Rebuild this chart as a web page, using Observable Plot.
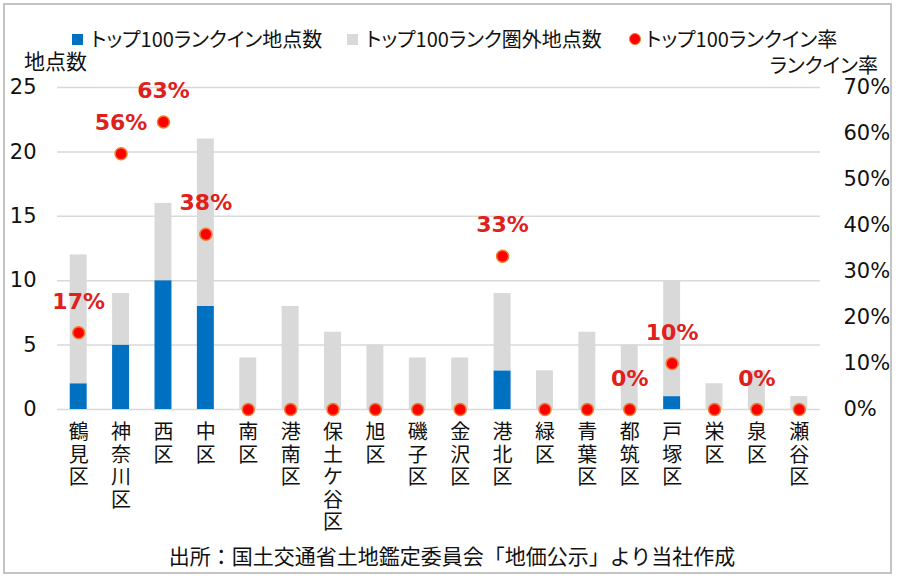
<!DOCTYPE html>
<html>
<head>
<meta charset="utf-8">
<script src="https://cdn.jsdelivr.net/npm/d3@7"></script>
<script src="https://cdn.jsdelivr.net/npm/@observablehq/plot@0.6"></script>
<style>
  html, body { margin: 0; padding: 0; background: #fff; }
  #wrap { position: relative; width: 900px; height: 584px; overflow: hidden; background: #fff;
          font-family: "Noto Sans CJK JP", "Noto Sans", sans-serif; color: #111; }
  #frame { position: absolute; left: 3px; top: 3px; width: 889px; height: 571px; border: 2px solid #c4c4c4; box-sizing: border-box; }
  .jp { font-feature-settings: "palt"; }
  .leg { position: absolute; top: 27px; font-size: 20px; line-height: 24px; white-space: nowrap; display: flex; align-items: center; }
  .sw { display: inline-block; width: 11px; height: 11px; margin-right: 8px; }
  .dotsw { display: inline-block; width: 10px; height: 10px; border-radius: 50%; background: #ff0000; border: 1.5px solid #ed7d31; margin-right: 5px; }
  #ytitleL { position: absolute; left: 24px; top: 48px; font-size: 21px; line-height: 24px; }
  #ytitleR { position: absolute; right: 22px; top: 53px; font-size: 20px; line-height: 24px; }
  #caption { position: absolute; left: 0; width: 904px; text-align: center; top: 542px; font-size: 21px; line-height: 26px; }
  #chart { position: absolute; left: 0; top: 74px; }
</style>
</head>
<body>
<div id="wrap">
  <div id="frame"></div>
  <div class="leg jp" style="left:72px"><span class="sw" style="background:#0070c0"></span>トップ100ランクイン地点数</div>
  <div class="leg jp" style="left:347px"><span class="sw" style="background:#d9d9d9"></span>トップ100ランク圏外地点数</div>
  <div class="leg jp" style="left:629px"><span class="dotsw"></span>トップ100ランクイン率</div>
  <div id="ytitleL" class="jp">地点数</div>
  <div id="ytitleR" class="jp">ランクイン率</div>
  <div id="chart"></div>
  <div id="caption">出所：国土交通省土地鑑定委員会「地価公示」より当社作成</div>
</div>
<script>
// ---- data ----
const districts = ["鶴見区","神奈川区","西区","中区","南区","港南区","保土ケ谷区","旭区","磯子区","金沢区","港北区","緑区","青葉区","都筑区","戸塚区","栄区","泉区","瀬谷区"];
const rankInCount  = [2, 5, 10, 8, 0, 0, 0, 0, 0, 0, 3, 0, 0, 0, 1, 0, 0, 0];
const rankOutCount = [10, 4, 6, 13, 4, 8, 6, 5, 4, 4, 6, 3, 6, 5, 9, 2, 3, 1];
const rankInRate   = [0.167, 0.556, 0.625, 0.381, 0, 0, 0, 0, 0, 0, 0.333, 0, 0, 0, 0.10, 0, 0, 0];
const rateLabels   = ["17%", "56%", "63%", "38%", "", "", "", "", "", "", "33%", "", "", "0%", "10%", "", "0%", ""];
const countTicks   = [0, 5, 10, 15, 20, 25];
const rateTicksPct = [0, 10, 20, 30, 40, 50, 60, 70];
const seriesNames  = ["トップ100ランクイン地点数", "トップ100ランク圏外地点数"];

// ---- derived ----
const countMax = 25, rateMaxPct = 70;
const rateToY = r => r * 100 / rateMaxPct * countMax;
const stacked = districts.flatMap((d, i) => [
  {district: d, series: seriesNames[0], value: rankInCount[i]},
  {district: d, series: seriesNames[1], value: rankOutCount[i]}
]);
const rates = districts.map((d, i) => ({district: d, rate: rankInRate[i], label: rateLabels[i]}));

const numFont = "DejaVu Sans";
const chart = Plot.plot({
  width: 900,
  height: 470,
  marginTop: 13,
  marginBottom: 135,
  marginLeft: 57,
  marginRight: 80,
  style: {fontFamily: "Noto Sans CJK JP", fontSize: "20px", color: "#111", background: "transparent"},
  x: {domain: districts, paddingInner: 0.6, paddingOuter: 0.3, round: false, axis: null},
  y: {domain: [0, countMax], axis: null},
  color: {domain: seriesNames, range: ["#0070c0", "#d9d9d9"]},
  marks: [
    Plot.ruleY(countTicks, {stroke: "#d9d9d9", strokeWidth: 1.5}),
    Plot.barY(stacked, {x: "district", y: "value", fill: "series"}),
    Plot.dot(rates, {x: "district", y: d => rateToY(d.rate), r: 6, fill: "#ff0000", stroke: "#ed7d31", strokeWidth: 1.5}),
    Plot.text(rates.filter(d => d.label), {x: "district", y: d => rateToY(d.rate), text: "label", dy: -31,
      fill: "#e0201b", fontWeight: "bold", fontSize: 22, fontFamily: numFont}),
    Plot.axisY(countTicks, {anchor: "left", tickSize: 0, tickPadding: 21, fontSize: 21, fontFamily: numFont, label: null}),
    Plot.axisY(rateTicksPct.map(p => p / rateMaxPct * countMax), {anchor: "right", tickSize: 0, tickPadding: 23,
      fontSize: 21, fontFamily: numFont, label: null,
      tickFormat: v => Math.round(v / countMax * rateMaxPct) + "%"}),
    Plot.axisX({anchor: "bottom", tickSize: 0, tickPadding: 14, fontSize: 20, lineHeight: 1.12, lineAnchor: "top",
      label: null, tickFormat: d => [...d].join("\n")})
  ]
});
document.getElementById("chart").appendChild(chart);
</script>
</body>
</html>
